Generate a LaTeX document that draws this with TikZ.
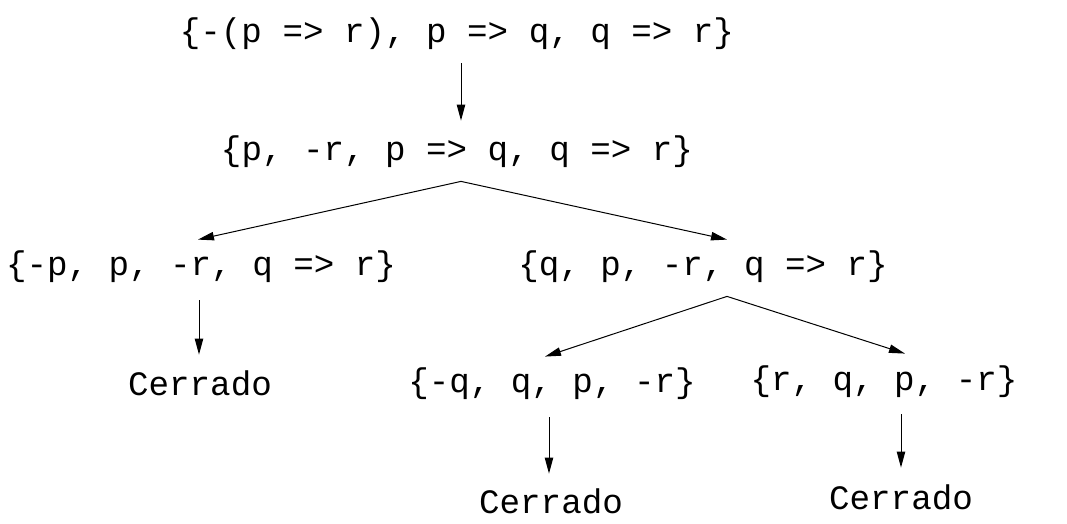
\documentclass[tikz,border=0pt]{standalone}
\usepackage{fontspec}
\setmonofont{Liberation Mono}
\usetikzlibrary{arrows.meta,positioning}
\tikzset{
    >={Triangle[length=8pt,width=4.2pt]},
    conj/.style={
           font=\ttfamily\fontsize{17.1}{20}\selectfont,
           text height=12pt,
           text depth=4pt,
           inner xsep=0pt,
           inner ysep=6pt},
    pil/.style={
           ->,
           line width=0.5pt}
}
\begin{document}
\begin{tikzpicture}[x=0.5pt,y=-0.5pt]
        \useasboundingbox (0,0) rectangle (1067,524);
        \node[conj] (c0) at (457,35)  {\{-(p => r), p => q, q => r\}};
        \node[conj] (c1) at (457,153) {\{p, -r, p => q, q => r\}};
        \node[conj] (c2) at (201,268) {\{-p, p, -r, q => r\}};
        \node[conj] (c3) at (703,268) {\{q, p, -r, q => r\}};
        \node[conj] (cer1) at (200,387) {Cerrado};
        \node[conj] (c4) at (552,385) {\{-q, q, p, -r\}};
        \node[conj] (c5) at (884,382) {\{r, q, p, -r\}};
        \node[conj] (cer2) at (551,505) {Cerrado};
        \node[conj] (cer3) at (901,501) {Cerrado};

        \draw[pil] ([xshift=2pt]c0.south) -- ([xshift=2pt,yshift=2pt]c1.north);
        \draw[pil] ([xshift=2pt]c1.south) -- ([xshift=-1.5pt]c2.north);
        \draw[pil] ([xshift=2pt]c1.south) -- ([xshift=12pt]c3.north);
        \draw[pil] ([xshift=-1pt,yshift=-2pt]c2.south) -- ([xshift=-0.5pt,yshift=2pt]cer1.north);
        \draw[pil] ([xshift=12pt]c3.south) -- ([xshift=-3.5pt]c4.north);
        \draw[pil] ([xshift=12pt]c3.south) -- ([xshift=10.5pt]c5.north);
        \draw[pil] ([xshift=-1.5pt,yshift=-2pt]c4.south) -- ([xshift=-1pt,yshift=1.5pt]cer2.north);
        \draw[pil] ([xshift=8.5pt,yshift=-2pt]c5.south) -- ([yshift=2.5pt]cer3.north);
    \end{tikzpicture}
\end{document}
